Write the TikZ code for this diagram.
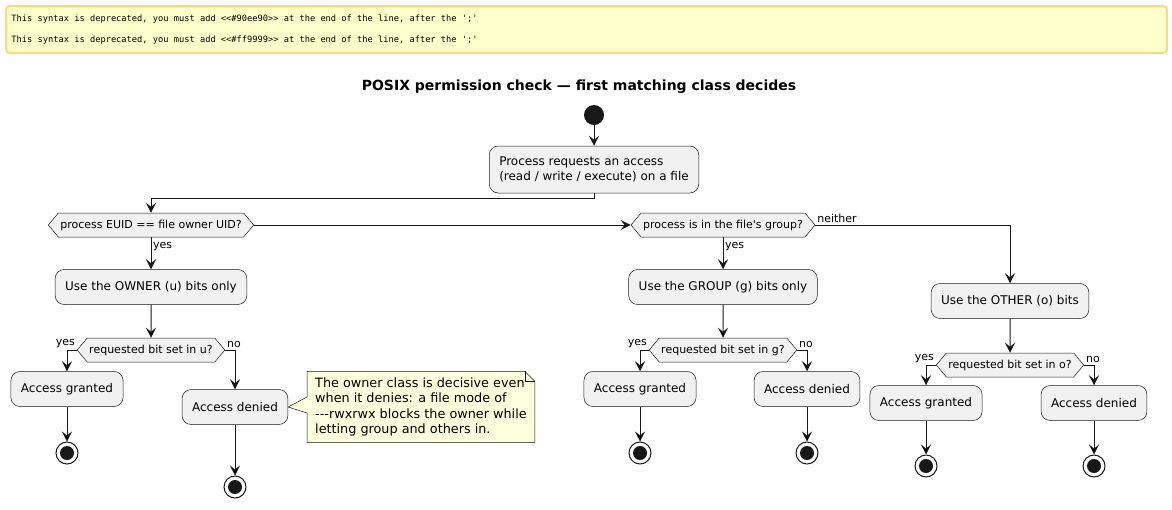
\documentclass[tikz,border=0pt]{standalone}
\usepackage{fontspec}
\setmainfont{DejaVu Sans}[Ligatures=TeXOff]
\newfontfamily\warnfont{DejaVu Sans Mono}[Ligatures=TeXOff]
\newcommand\monospaces{\spaceskip=0.602em\relax}
\usetikzlibrary{arrows.meta,shapes.symbols,backgrounds,calc}

\definecolor{linec}{HTML}{181818}
\definecolor{boxfill}{HTML}{F1F1F1}
\definecolor{notefill}{HTML}{FEFFDD}
\definecolor{warnfill}{HTML}{FFFFCC}
\definecolor{warnline}{HTML}{FFD97F}

\tikzset{
  action/.style={draw=linec, fill=boxfill, rounded corners=9pt, line width=0.5pt,
    font=\fontsize{12}{14.5}\selectfont, align=left, inner xsep=10pt, minimum height=35pt},
  decision/.style={signal, signal to=west and east, signal pointer angle=100,
    draw=linec, fill=boxfill, line width=0.5pt, font=\fontsize{11}{13}\selectfont,
    minimum height=24pt, inner xsep=2pt, inner ysep=0pt},
  flow/.style={draw=linec, line width=1pt, -{Stealth[length=10pt,width=10pt,inset=4pt]}},
  lbl/.style={font=\fontsize{11}{13}\selectfont, inner sep=1.5pt},
  startnode/.style={circle, fill=linec, minimum size=20pt, inner sep=0pt},
  stopnode/.style={circle, draw=linec, line width=1pt, fill=white, minimum size=22pt, inner sep=0pt,
    path picture={\fill[linec] (path picture bounding box.center) circle (7pt);}},
  notetext/.style={font=\fontsize{12.8}{15.5}\selectfont, align=left, inner xsep=8pt, inner ysep=6pt},
  notebg/.style={draw=linec, fill=notefill, line width=0.5pt},
  warn/.style={draw=warnline, fill=warnfill, line width=2pt, rounded corners=4pt,
    font=\warnfont\fontsize{8.7}{21}\selectfont, align=left, text width=1150pt,
    inner xsep=5.5pt, minimum height=47pt},
}

\begin{document}
\begin{tikzpicture}[x=1pt, y=-1pt]
  \useasboundingbox (0,0) rectangle (1172,509);

  \node[warn, anchor=north west] (warn) at (5,5)
    {\monospaces This syntax is deprecated, you must add <<\#90ee90>> at the end of the line, after the ';'\\
     This syntax is deprecated, you must add <<\#ff9999>> at the end of the line, after the ';'};
  \node[font=\bfseries\fontsize{14}{16}\selectfont] (title) at (579,87)
    {POSIX permission check — first matching class decides};

  \node[startnode] (start) at (594,115) {};
  \node[action, minimum height=47pt] (req) at (594,169.5)
    {Process requests an access\\(read / write / execute) on a file};

  \node[decision] (qown) at (151,225) {process EUID == file owner UID?};
  \node[decision] (qgrp) at (723,225) {process is in the file's group?};

  \node[action] (own) at (151,287) {Use the OWNER (u) bits only};
  \node[action] (grp) at (723,287) {Use the GROUP (g) bits only};
  \node[action] (oth) at (1010,301) {Use the OTHER (o) bits};

  \node[decision] (bitu) at (151,350) {requested bit set in u?};
  \node[decision] (bitg) at (723,350) {requested bit set in g?};
  \node[decision] (bito) at (1010,365) {requested bit set in o?};

  \node[action] (ugrant) at (67,389) {Access granted};
  \node[action] (udeny) at (235,407) {Access denied};
  \node[action] (ggrant) at (640,389) {Access granted};
  \node[action] (gdeny) at (807,389) {Access denied};
  \node[action] (ogrant) at (926,403) {Access granted};
  \node[action] (odeny) at (1094,403) {Access denied};

  \node[stopnode] (uend1) at (67,453) {};
  \node[stopnode] (uend2) at (235,487) {};
  \node[stopnode] (gend1) at (640,453) {};
  \node[stopnode] (gend2) at (807,453) {};
  \node[stopnode] (oend1) at (926,466) {};
  \node[stopnode] (oend2) at (1094,466) {};

  % note on the owner branch
  \node[notetext, anchor=west] (note) at (307,407)
    {The owner class is decisive even\\when it denies: a file mode of\\---rwxrwx blocks the owner while\\letting group and others in.};
  \begin{scope}[on background layer]
    \filldraw[notebg] (note.north west) -- ($(note.north east)+(-10,0)$) -- ($(note.north east)+(0,10)$)
      -- (note.south east) -- (note.south west) -- ($(note.west)+(0,6)$) -- (udeny.east)
      -- ($(note.west)+(0,-10)$) -- cycle;
    \draw[notebg, fill=none] ($(note.north east)+(-10,0)$) |- ($(note.north east)+(0,10)$);
  \end{scope}

  \draw[flow] (start) -- (req);
  \draw[flow] (req.south) -- ++(0,5) -| (qown.north);
  \draw[flow] (qown.east) -- (qgrp.west);
  \draw[flow] (qgrp.east) -| (oth.north) node[lbl, pos=0, anchor=south west]{neither};

  \draw[flow] (qown.south) -- node[lbl, pos=0.3, anchor=west]{yes} (own.north);
  \draw[flow] (qgrp.south) -- node[lbl, pos=0.3, anchor=west]{yes} (grp.north);
  \path[flow]
    (own) edge (bitu)
    (grp) edge (bitg)
    (oth) edge (bito)
    ;

  \draw[flow] (bitu.west) -| (ugrant.north) node[lbl, pos=0, anchor=south east]{yes};
  \draw[flow] (bitu.east) -| (udeny.north) node[lbl, pos=0, anchor=south west]{no};
  \draw[flow] (bitg.west) -| (ggrant.north) node[lbl, pos=0, anchor=south east]{yes};
  \draw[flow] (bitg.east) -| (gdeny.north) node[lbl, pos=0, anchor=south west]{no};
  \draw[flow] (bito.west) -| (ogrant.north) node[lbl, pos=0, anchor=south east]{yes};
  \draw[flow] (bito.east) -| (odeny.north) node[lbl, pos=0, anchor=south west]{no};

  \path[flow]
    (ugrant) edge (uend1)
    (udeny) edge (uend2)
    (ggrant) edge (gend1)
    (gdeny) edge (gend2)
    (ogrant) edge (oend1)
    (odeny) edge (oend2)
    ;
\end{tikzpicture}
\end{document}
